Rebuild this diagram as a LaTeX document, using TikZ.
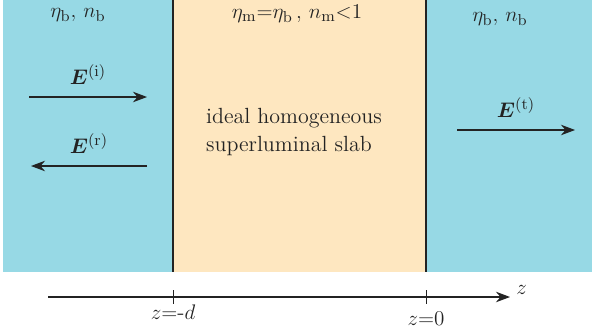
\documentclass[tikz,border=0pt]{standalone}
\usepackage{amsmath, amssymb, bm}
\usepackage{xcolor}
\definecolor{colBack}{RGB}{151,217,229}
\definecolor{colSlab}{RGB}{254,231,192}
\definecolor{colLine}{RGB}{35,35,35}
\usetikzlibrary{arrows.meta, positioning}

\begin{document}
\begin{tikzpicture}[
		x=0.02cm, y=-0.02cm,
		every node/.style={font=\fontsize{12.5}{15.5}\selectfont, text=colLine},
		field/.style={-{Stealth[length=8pt, width=6pt]}, semithick, colLine},
		fieldlabel/.style={font=\fontsize{13}{15}\selectfont, inner sep=1pt},
		tick/.style={colLine, thin}
	]
		\useasboundingbox (0,0) rectangle (592,335);
		% media
		\fill[colBack] (3,0) rectangle (592,272);
		\fill[colSlab] (173,0) rectangle (426,272);
		\draw[colLine, semithick] (173,0) -- (173,272);
		\draw[colLine, semithick] (426,0) -- (426,272);
		% labels of the regions
		\node (medl) at (78,15) {$\eta_{\mathrm{b}},\,n_{\mathrm{b}}$};
		\node (medm) at (297,14) {$\eta_{\mathrm{m}}{=}\eta_{\mathrm{b}}\,,\,n_{\mathrm{m}}{<}1$};
		\node (medr) at (500,19) {$\eta_{\mathrm{b}},\,n_{\mathrm{b}}$};
		\node[align=left] (slab) at (294,132) {ideal homogeneous\\superluminal slab};
		% fields
		\coordinate (inc-a) at (29,97);
		\coordinate (inc-b) at (147,97);
		\coordinate (ref-a) at (147,166);
		\coordinate (ref-b) at (31,166);
		\coordinate (tra-a) at (457,130);
		\coordinate (tra-b) at (575,130);
		\draw[field] (inc-a) -- node[fieldlabel, above=6pt] {$\bm{E}^{(\mathrm{i})}$} (inc-b);
		\draw[field] (ref-a) -- node[fieldlabel, above=6pt] {$\bm{E}^{(\mathrm{r})}$} (ref-b);
		\draw[field] (tra-a) -- node[fieldlabel, above=6pt] {$\bm{E}^{(\mathrm{t})}$} (tra-b);
		% z axis
		\coordinate (ax-a) at (48,297);
		\coordinate (ax-b) at (510,297);
		\draw[field] (ax-a) -- (ax-b) node[above right=-2pt and 0pt] (zlab) {$z$};
		\draw[tick] (173,290) -- (173,304) node[below=-3pt] (zd) {$z{=}\text{-}d$};
		\draw[tick] (426,290) -- (426,304) node[below=1pt] (z0) {$z{=}0$};
\end{tikzpicture}
\end{document}
